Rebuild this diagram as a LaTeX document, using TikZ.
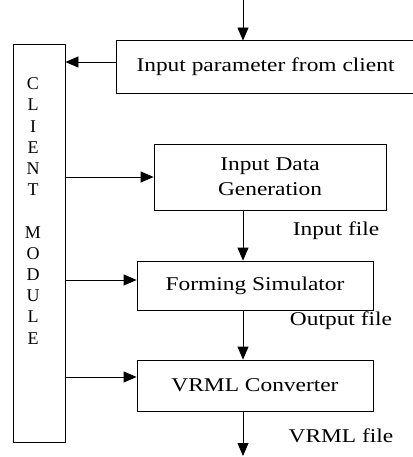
\documentclass[tikz,border=0pt]{standalone}
\usepackage{fontspec}
\setmainfont{Liberation Serif}
\newfontfamily\boxfont{Liberation Serif}[FakeStretch=1.2]
\usetikzlibrary{arrows.meta}
\begin{document}
\begin{tikzpicture}[x=1pt,y=-1pt,
  line width=0.8pt,
  arr/.style={-{Triangle[length=13pt,width=11pt]}},
  blk/.style={draw,minimum width=#1,inner sep=0pt,font=\boxfont\fontsize{19.5}{25}\selectfont,align=center},
  lbl/.style={font=\boxfont\fontsize{19.5}{22}\selectfont,inner sep=0pt}]
\useasboundingbox (0,0) rectangle (412,457);
\node[blk=52pt,minimum height=398pt] (client) at (39,243) {};
\node[inner sep=0pt,align=center,font=\fontsize{18}{21.2}\selectfont] (clienttext) at (33,211)
  {C\\L\\I\\E\\N\\T\\[21.2pt]M\\O\\D\\U\\L\\E};
\node[blk=297pt,minimum height=52pt,draw=none] (param) at (265.5,67) {Input parameter from client};
\draw (param.north east) -- (param.north west) -- (param.south west) -- (param.south east);
\node[blk=232pt,minimum height=66pt] (idg) at (270,177) {Input Data\\Generation};
\node[blk=236pt,minimum height=49pt] (fs) at (255,285.5) {Forming Simulator};
\node[blk=236pt,minimum height=51pt] (vrml) at (255,385.5) {VRML Converter};
\coordinate (spine) at (243,0);
\coordinate (bot) at (243,456);
\coordinate (pout) at ([yshift=5pt]param.west);
\coordinate (fsin) at ([yshift=5.5pt]fs.west);
\coordinate (vrin) at ([yshift=8.5pt]vrml.west);
\draw[arr] (spine) -- (spine |- param.north);
\draw[arr] (pout) -- (client.east |- pout);
\draw[arr] (client.east |- idg.west) -- (idg.west);
\draw[arr] (client.east |- fsin) -- (fsin);
\draw[arr] (client.east |- vrin) -- (vrin);
\draw[arr] (spine |- idg.south) -- (spine |- fs.north);
\draw[arr] (spine |- fs.south) -- (spine |- vrml.north);
\draw[arr] (spine |- vrml.south) -- (bot);
\node[lbl] (l1) at (336,231) {Input file};
\node[lbl] (l2) at (341,321) {Output file};
\node[lbl] (l3) at (341,436) {VRML file};
\end{tikzpicture}
\end{document}
